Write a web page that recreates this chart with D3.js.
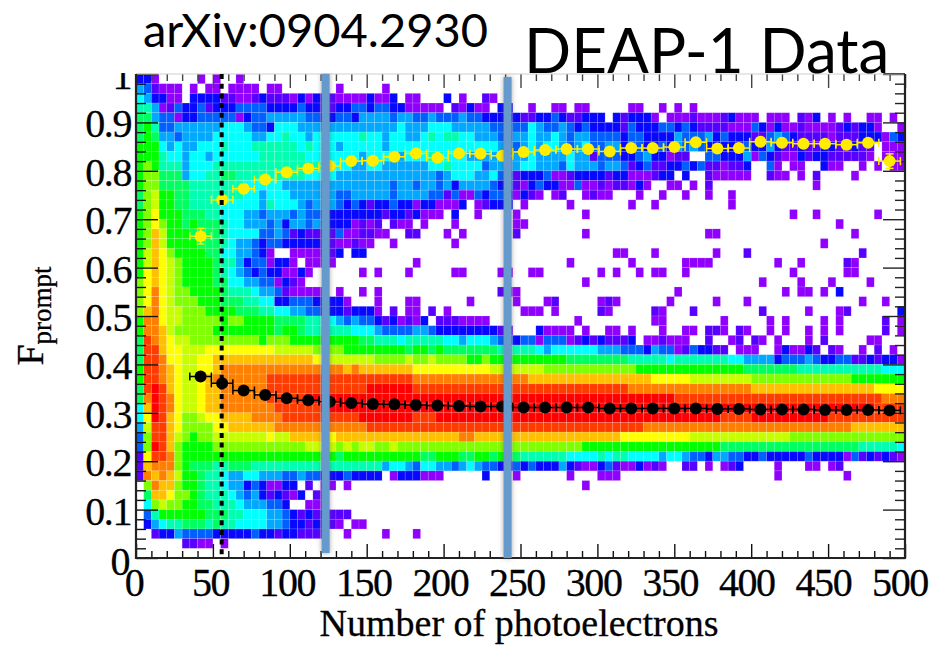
<!DOCTYPE html>
<html>
<head>
<meta charset="utf-8">
<title>DEAP-1 Data</title>
<script src="https://cdn.jsdelivr.net/npm/d3@7"></script>
<style>
    html, body { margin: 0; padding: 0; background: white; }
    svg { display: block; }
    .tickLabel { font-family: "Liberation Serif", serif; font-size: 40px; letter-spacing: -1.4px; fill: black; stroke: black; stroke-width: 0.3px; }
    .axisTitle { font-family: "Liberation Serif", serif; fill: black; stroke: black; stroke-width: 0.3px; }
    .slideText { font-family: Lato, "Open Sans", sans-serif; fill: black; }
</style>
</head>
<body>
<svg id="chart" width="942" height="646"></svg>
<script>
// Histogram. One string per row, top row (F 0.98-1.00) first,
// one character per 5 photoelectron bin. '.' is an empty bin, the rest index heatColors
const heatRows = [
    "331.....1. 1..1",
    "542111.1.1 1.1111.11. ......1... ..1",
    "653311.333 3221123222 1313221111 3113.11... 3.1..21",
    "7751243342 3334444333 3433223344 3443311111 .21311.33. .1..11.11. ....11..1. 1.1",
    "8854413344 4441344555 5544334435 5554554454 4454433333 2233432233 3.323331.1 1121112311 1.111.213. 1.1..11.1.",
    "8974455555 5666544366 6555555555 5555655566 6555554444 4654454343 3332433344 3432222111 4313112111 1232331..1",
    "8985545555 6666655667 6656666667 6656655676 7766555445 5655654554 4443443333 5444534333 2245432222 1222333143",
    "9996565566 6766677777 7676665666 6656666666 6666666554 5656654564 4553443343 5454333334 3353223223 322322.111",
    "9997665665 6666667777 7766666665 6665566677 6665555555 5655556552 4443345331 22..443335 1432113233 222221.111",
    "9a97775666 7777777777 7777766655 6655555566 7666645555 6655546555 4554234223 3434221223 ..41.11..3 11..1.1.11",
    "9aa8885667 7887777777 7766665555 5555555554 5666556442 3334112333 3233111233 .3..211111 ..211.1.2. ...1......",
    "9aa8888777 7777666665 5555555555 5554554554 5355554342 1343311411 2122131..1 1.1.2..... ........1.",
    "8ab9988777 7777665666 5555554455 5554555544 2411434431 321.12..12 11...1..1. .1..1..1..",
    "8ab9988777 7666665766 6545554343 2334331331 113.12333. 1.....1... ....1..1.. .......1..",
    "9ac9998887 7666554555 4544433333 3323323111 .3..1....1 ........1. .......... .......... .....1..1. ......1...",
    "9aca998988 8766555453 5545433312 12.211.1.. .1.......1 1......... .......... .......... .......... .1........",
    "9adb999888 8766664454 2322224112 211..22... 1.1......2 ........1. .......... ....11.... .......... ...1......",
    "9adb999988 8765543443 3333221121 1..1...... .1........ .......... .......... .......... .........1",
    "9bdca99998 86655431.. 1111223.33 .......... .......... .......... ..11...1.. .....1...2 .......... ....2.....",
    "9bdcba9999 8775344133 1.1111.... ......1... .......... ......1... ....1..... .1111..... ...1..1... ..21......",
    "9cdcba9999 8765434331 131......1 .1...1.... .11....11. .11....... 1.1..1.11. .1........ .....1.... ..11......",
    "acdcba9999 8866554413 21........ .......... .......... ........1. .......... .......... .1....1... 1....1....",
    "acecbaa999 9877765542 11111.1..1 .1........ .......211 .......... .......... 1......... ....1.11.1 .3........",
    "acecbaaa99 9888776633 44433331.. .1...11... ...1.....1 ...12..... 121......1 .....1...1 .......... ....1..1..",
    "adecbbaaa9 9998887766 5544333233 31.2.11.2. 1......... 111.1..... 21.....21. ..2....... .2.....1.. .12......3",
    "9eecbbaaaa a9aa999988 8877665454 43231213.2 221111.... .......1.. .......11. ......1... ..1.1....1 .1.....2.1",
    "9eedbaaaaa 9999999989 9877777766 6544445543 333333322. ..31111.1. .11.1...1. .11.221.21 ..1.1..1.1 .1.....2.1",
    "8fedcbbaaa aaaaaa9aaa 9999999998 8777677777 6656665443 4414441232 32223.1121 11..2..12. 21.1...1.2 .....11...",
    "8ffdccbbbc ccccccccbb bbbaaaa999 9999989989 8888888777 7765666666 5554443544 1243322.11 1..131132. 21..1.2.1.",
    "8ffeccbbcc dddddddddd dddccbbbbb baaaabaaba aaa99a9999 9999998888 8888777776 7777777665 5553444543 3442232331",
    "9ffedcbbcc deeeeeeeee eeeeeeeded ddddddcccc ccccccbbbb bbbaaaaaaa aaaaa99999 9999999998 8888887777 7777777666",
    "9ffedcbbcd eeeeeeefff ffffffffff ffffffeeee eeeeeeeeee eddddddddd dddddddccc ccbbbbbbbb aaaaaaaaaa aaa9999999",
    "8fgfdcbbcd deeeeeefff ffffffffff ggggggffff ffffffffff ffffffffff ffffeeeeee eeeeeeeeee dddddddddd ddddddcccc",
    "8egfecbbcd deeeeeefff ffgggggggg gggggggggg gggggggggg gggggggggg gggggggggg ffffffffff ffffffffff fffffffeee",
    "6dgfecbbcd deeeeeeeff ffffgggggg gggggggggg gggggggggg gggggggggg gggggggggg gggggggggg gggggggggg ggggggffff",
    "6cgfdcaabc cddddeeeef fffffffffg ggggggfffg gggggggggg gggggggggg gggggggggg ggggggffff gggggggggg ffffffffff",
    "5bffdcaaaa ccddddddee eeeeeeeeee ffffffffff ffffffffff ffffffffff ffffffeeee eeeeeeeeee eeeeeeeeee eeeddddddd",
    "4affdba9aa bbbbbbbcbb dddddcdddd dddddddddd ddeedddddd dddddddddd dddccccccc ccbbbbbbbb bbbbbaaaaa aaaaaaaaaa",
    "4agfda9999 aaaaaaaaaa aabbbbabab baabaaaaaa aaaaaaaaaa aaaaaaaa99 9999999999 9999998888 8888888888 8888777776",
    "2cffea9999 9999999999 9999998999 9999999889 9988998988 7777776666 7677666656 6544355443 3433333433 3314232321",
    "2deeea9888 7788877777 7777777777 7756654665 5456544334 3433353211 342113121. .22.1.123. ...1...11. 12",
    "2ededb9987 7655665554 4544333433 33.1333111 .....3...1 ......1... 111....... .......... ...1...... ..1.......",
    ".aedda9987 7655343113 3.2.11.1.. .......... .......... ........1.",
    ".8ddcaa987 7765453232 13.21.....",
    ".6abaa9988 7776555443 ..111.....",
    ".479999998 8877666554 32323222..",
    ".356778887 8776666554 3323221.11",
    "..23354444 3333343323 32222..1.. ..1...1...",
    "......2211 .1",
    ""
];

// ROOT rainbow palette, low to high
const heatColors = {
    "1": "#9000ff", "2": "#5800ff", "3": "#0808ff", "4": "#0060ff",
    "5": "#00a8ff", "6": "#00ffff", "7": "#00ffb0", "8": "#00ff60",
    "9": "#00ff00", "a": "#80ff00", "b": "#c8ff00", "c": "#ffff00",
    "d": "#ffc000", "e": "#ff8000", "f": "#ff3c00", "g": "#ff0000"
};

// Profile points, same x for both populations
const profileX = [42, 56, 70, 84, 98, 112, 126, 140, 154, 168, 182, 196, 210, 224, 238, 252, 266,
    280, 294, 308, 322, 336, 350, 364, 378, 392, 406, 420, 434, 448, 462, 476, 490];
const yellowY = [0.665, 0.740, 0.763, 0.782, 0.797, 0.805, 0.810, 0.820, 0.821, 0.829, 0.836, 0.827,
    0.836, 0.835, 0.831, 0.839, 0.843, 0.845, 0.845, 0.840, 0.847, 0.847, 0.849, 0.859, 0.846, 0.847,
    0.860, 0.858, 0.856, 0.856, 0.854, 0.858, 0.820];
const blackY = [0.375, 0.361, 0.346, 0.337, 0.330, 0.326, 0.323, 0.320, 0.318, 0.3175, 0.316, 0.315,
    0.314, 0.313, 0.313, 0.311, 0.311, 0.311, 0.311, 0.309, 0.309, 0.309, 0.309, 0.309, 0.308, 0.308,
    0.307, 0.307, 0.307, 0.306, 0.306, 0.306, 0.305];
const yellowYErr = [0.016, 0.008, 0.005, 0.004, 0.004, 0.003, 0.003, 0.003, 0.003, 0.003, 0.003, 0.003,
    0.003, 0.003, 0.003, 0.003, 0.003, 0.003, 0.003, 0.004, 0.004, 0.004, 0.004, 0.004, 0.004, 0.004,
    0.004, 0.004, 0.004, 0.004, 0.004, 0.006, 0.015];

// Tick values and labels
const xMajor = [0, 50, 100, 150, 200, 250, 300, 350, 400, 450, 500];
const xMinor = [10, 20, 30, 40, 60, 70, 80, 90, 110, 120, 130, 140, 160, 170, 180, 190, 210, 220, 230, 240,
    260, 270, 280, 290, 310, 320, 330, 340, 360, 370, 380, 390, 410, 420, 430, 440, 460, 470, 480, 490];
const yMajor = [0, 0.1, 0.2, 0.3, 0.4, 0.5, 0.6, 0.7, 0.8, 0.9, 1];
const yMinor = [0.02, 0.04, 0.06, 0.08, 0.12, 0.14, 0.16, 0.18, 0.22, 0.24, 0.26, 0.28, 0.32, 0.34, 0.36, 0.38,
    0.42, 0.44, 0.46, 0.48, 0.52, 0.54, 0.56, 0.58, 0.62, 0.64, 0.66, 0.68, 0.72, 0.74, 0.76, 0.78,
    0.82, 0.84, 0.86, 0.88, 0.92, 0.94, 0.96, 0.98];

// The analysis cuts drawn over the plot
const dottedCut = 55.7;
const blueCuts = [123.3, 241.6];

const binWidth = 5;
const binHeight = 0.02;

// Plot box
const plotLeft = 136, plotRight = 905, plotTop = 74, plotBottom = 558;

const x = d3.scaleLinear().domain([0, 500]).range([plotLeft, plotRight]);
const y = d3.scaleLinear().domain([0, 1]).range([plotBottom, plotTop]);

// x labels sit a bit tighter than the ticks in the original figure
const xLabel = d3.scaleLinear().domain([0, 500]).range([134, 900]);

const svg = d3.select("#chart");

const defs = svg.append("defs");
defs.append("filter").attr("id", "soft")
    .attr("x", "-200%").attr("width", "500%")
    .append("feDropShadow")
    .attr("dx", 0).attr("dy", 0).attr("stdDeviation", 2.5)
    .attr("flood-color", "#555").attr("flood-opacity", 0.55);

// Turn the strings into cells
const cells = [];
heatRows.forEach((row, r) => {
    row.replace(/ /g, "").split("").forEach((c, i) => {
        if (c !== ".") cells.push({ col: i, row: r, level: c });
    });
});

svg.append("g").selectAll("rect")
    .data(cells)
    .enter().append("rect")
    .attr("x", d => x(d.col * binWidth))
    .attr("y", d => y(1 - d.row * binHeight))
    .attr("width", x(binWidth) - x(0))
    .attr("height", y(0) - y(binHeight))
    .attr("fill", d => heatColors[d.level])
    .attr("stroke", "white")
    .attr("stroke-opacity", 0.18)
    .attr("stroke-width", 0.7);

// Ticks all point into the plot, on all four sides
function drawTicks(axis, cls, color) {
    svg.append("g").attr("class", cls).call(axis)
        .call(g => g.selectAll("text").remove())
        .call(g => g.select(".domain").remove())
        .call(g => g.selectAll("line").attr("stroke", color).attr("stroke-width", 1.4));
}

drawTicks(d3.axisBottom(x).tickValues(xMajor).tickSize(14), "xMajorTop", "#444");
drawTicks(d3.axisBottom(x).tickValues(xMinor).tickSize(7), "xMinorTop", "#444");
svg.selectAll(".xMajorTop, .xMinorTop").attr("transform", `translate(0,${plotTop})`);

drawTicks(d3.axisTop(x).tickValues(xMajor).tickSize(14), "xMajorBottom", "#111");
drawTicks(d3.axisTop(x).tickValues(xMinor).tickSize(7), "xMinorBottom", "#111");
svg.selectAll(".xMajorBottom, .xMinorBottom").attr("transform", `translate(0,${plotBottom})`);

drawTicks(d3.axisRight(y).tickValues(yMajor).tickSize(22), "yMajorLeft", "#111");
drawTicks(d3.axisRight(y).tickValues(yMinor).tickSize(10), "yMinorLeft", "#111");
svg.selectAll(".yMajorLeft, .yMinorLeft").attr("transform", `translate(${plotLeft},0)`);

drawTicks(d3.axisLeft(y).tickValues(yMajor).tickSize(22), "yMajorRight", "#222");
drawTicks(d3.axisLeft(y).tickValues(yMinor).tickSize(10), "yMinorRight", "#222");
svg.selectAll(".yMajorRight, .yMinorRight").attr("transform", `translate(${plotRight},0)`);

// Frame: heavy left, bottom and right, thin grey along the top
svg.append("line").attr("x1", plotLeft).attr("x2", plotRight).attr("y1", plotTop).attr("y2", plotTop)
    .attr("stroke", "#cfcfcf").attr("stroke-width", 1);
svg.append("line").attr("x1", x(486)).attr("x2", plotRight).attr("y1", plotTop - 1).attr("y2", plotTop - 1)
    .attr("stroke", "#222").attr("stroke-width", 1.5);
svg.append("path")
    .attr("d", `M${plotLeft},${plotTop}V${plotBottom}H${plotRight}V${plotTop}`)
    .attr("fill", "none").attr("stroke", "#222").attr("stroke-width", 2.2);

// Profile error bars and points
function drawProfile(values, errs, color, radius) {
    const pts = profileX.map((px, i) => ({ px: px, py: values[i], err: errs ? errs[i] : 0 }));
    const capH = 4;
    const g = svg.append("g");

    pts.forEach(d => {
        g.append("line")
            .attr("x1", x(d.px - 7)).attr("x2", x(d.px + 7))
            .attr("y1", y(d.py)).attr("y2", y(d.py))
            .attr("stroke", color).attr("stroke-width", 1.5);
        [d.px - 7, d.px + 7].forEach(end => {
            g.append("line")
                .attr("x1", x(end)).attr("x2", x(end))
                .attr("y1", y(d.py) - capH).attr("y2", y(d.py) + capH)
                .attr("stroke", color).attr("stroke-width", 1.5);
        });
        if (d.err > 0.006) {
            g.append("line")
                .attr("x1", x(d.px)).attr("x2", x(d.px))
                .attr("y1", y(d.py + d.err)).attr("y2", y(d.py - d.err))
                .attr("stroke", color).attr("stroke-width", 1.5);
            [d.py + d.err, d.py - d.err].forEach(end => {
                g.append("line")
                    .attr("x1", x(d.px) - 4).attr("x2", x(d.px) + 4)
                    .attr("y1", y(end)).attr("y2", y(end))
                    .attr("stroke", color).attr("stroke-width", 1.5);
            });
        }
    });

    g.selectAll("circle")
        .data(pts)
        .enter().append("circle")
        .attr("cx", d => x(d.px))
        .attr("cy", d => y(d.py))
        .attr("r", radius)
        .attr("fill", color);
}

drawProfile(yellowY, yellowYErr, "#ffee00", 6);
drawProfile(blackY, null, "black", 6);

// Dotted cut
svg.append("line")
    .attr("x1", x(dottedCut)).attr("x2", x(dottedCut))
    .attr("y1", plotTop).attr("y2", plotBottom)
    .attr("stroke", "black").attr("stroke-width", 4)
    .attr("stroke-dasharray", "5,4.7");

// Blue cuts added on the slide, first one stops a little short of the axis
svg.selectAll(".blueCut")
    .data(blueCuts)
    .enter().append("rect")
    .attr("class", "blueCut")
    .attr("x", d => x(d) - 4)
    .attr("width", 8)
    .attr("y", (d, i) => i === 0 ? plotTop : plotTop + 3)
    .attr("height", (d, i) => i === 0 ? plotBottom - plotTop - 5 : plotBottom - plotTop - 3)
    .attr("fill", "#6699cc")
    .attr("filter", "url(#soft)");

// Tick labels
svg.append("g").selectAll("text")
    .data(xMajor)
    .enter().append("text")
    .attr("class", "tickLabel")
    .attr("x", d => xLabel(d))
    .attr("y", 596)
    .attr("text-anchor", "middle")
    .text(d => d);

svg.append("g").selectAll("text")
    .data(yMajor)
    .enter().append("text")
    .attr("class", "tickLabel")
    .attr("x", d => d === 0 ? 129 : 131)
    .attr("y", d => d === 0 ? 575 : y(d) + 15)
    .attr("text-anchor", "end")
    .text(d => d);

// The slide's white title area cuts the top off the "1"
svg.append("rect").attr("x", 0).attr("y", 0).attr("width", 942).attr("height", plotTop - 1).attr("fill", "white");

// Axis titles
svg.append("text")
    .attr("class", "axisTitle")
    .attr("x", 519).attr("y", 636)
    .attr("text-anchor", "middle")
    .style("font-size", "38px")
    .text("Number of photoelectrons");

const yTitle = svg.append("text")
    .attr("class", "axisTitle")
    .attr("transform", "translate(43,316) rotate(-90)")
    .attr("text-anchor", "middle")
    .style("font-size", "38px");
yTitle.append("tspan").text("F");
yTitle.append("tspan").attr("dy", 8).style("font-size", "27px").text("prompt");

// Slide annotations
svg.append("text").attr("class", "slideText")
    .attr("x", 143).attr("y", 46.5)
    .style("font-size", "47px")
    .text("arXiv:0904.2930");

svg.append("text").attr("class", "slideText")
    .attr("x", 524).attr("y", 73)
    .style("font-size", "62px")
    .text("DEAP-1 Data");
</script>
</body>
</html>
